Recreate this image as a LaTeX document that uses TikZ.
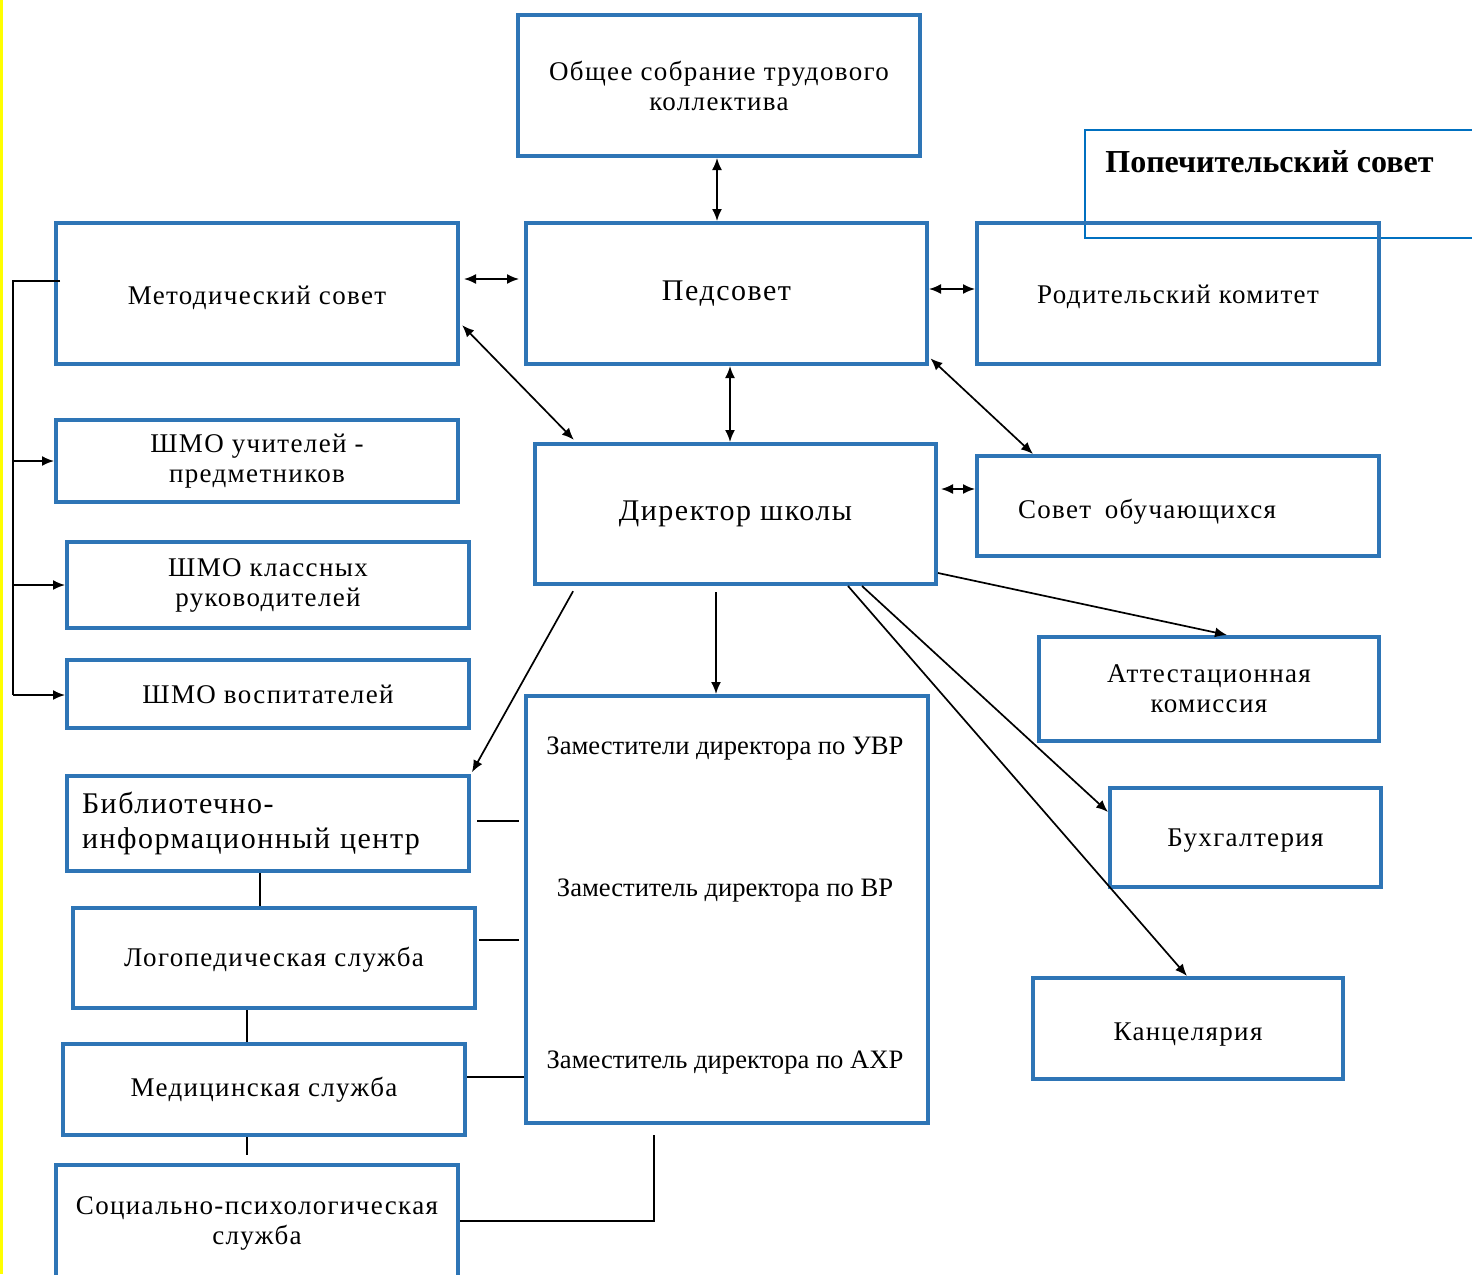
\documentclass[tikz,border=0pt]{standalone}
\usepackage{fontspec}
\setmainfont{Liberation Serif}
\newfontfamily\spc{Liberation Serif}[LetterSpace=5]
\usetikzlibrary{arrows.meta,calc}
\definecolor{boxblue}{RGB}{46,117,182}
\definecolor{popblue}{RGB}{0,112,192}
\definecolor{edgeyellow}{RGB}{255,255,0}
\begin{document}
\begin{tikzpicture}[x=0.5pt,y=-0.5pt,
  bx/.style={draw=boxblue, line width=2pt, align=center, inner sep=2pt, font=\spc\fontsize{13.5}{15}\selectfont},
  bigtxt/.style={font=\spc\fontsize{15}{17.5}\selectfont},
  ztxt/.style={inner sep=1pt, font=\fontsize{13.3}{15}\selectfont},
  dbl/.style={{Latex[length=6pt,width=5pt]}-{Latex[length=6pt,width=5pt]}, line width=0.85pt},
  arr/.style={-{Latex[length=6pt,width=5pt]}, line width=0.85pt},
  ln/.style={line width=0.85pt}]
\useasboundingbox (0,0) rectangle (1472,1274);
\fill[white] (0,0) rectangle (1472,1274);
\fill[edgeyellow] (0,0) rectangle (2.5,1274);

% boxes
\node[bx, minimum width=201pt, minimum height=70.5pt] (obsh) at (719,85.5) {Общее собрание трудового\\коллектива};
\node[draw=popblue, line width=0.75pt, minimum width=200pt, minimum height=54pt, inner sep=0pt] (popech) at (1285,184) {};
\node[anchor=base west, inner sep=0pt, font=\bfseries\fontsize{16}{18}\selectfont] (popechT) at (1105,172) {Попечительский совет};
\node[bx, minimum width=201pt, minimum height=70.5pt, text height=13.5pt, text depth=3pt] (metod) at (257,293.5) {Методический совет};
\node[bx, bigtxt, minimum width=200.5pt, minimum height=70.5pt] (ped) at (726.5,293.5) {Педсовет};
\node[bx, minimum width=201pt, minimum height=70.5pt, text height=12.5pt, text depth=3pt] (rod) at (1178,293.5) {Родительский комитет};
\node[bx, minimum width=201pt, minimum height=41pt] (shmo1) at (257,461) {ШМО учителей -\\предметников};
\node[bx, bigtxt, minimum width=200.5pt, minimum height=70pt] (dir) at (735.5,514) {Директор школы};
\node[bx, minimum height=50pt, align=left, text width=160pt, inner xsep=20.5pt, text height=15pt, text depth=3pt] (sovet) at (1178,506) {Совет\enspace обучающихся};
\node[bx, minimum width=201pt, minimum height=43pt] (shmo2) at (268,585) {ШМО классных\\руководителей};
\node[bx, minimum width=201pt, minimum height=34pt] (shmo3) at (268,694) {ШМО воспитателей};
\node[bx, minimum width=170pt, minimum height=52pt] (att) at (1209,689) {Аттестационная\\комиссия};
\node[bx, minimum width=201pt, minimum height=213.5pt] (zam) at (727,909.5) {};
\node[ztxt] (zam1) at (725,749) {Заместители директора по УВР};
\node[ztxt] (zam2) at (725,891) {Заместитель директора по ВР};
\node[ztxt] (zam3) at (725,1063) {Заместитель директора по АХР};
\node[bx, bigtxt, minimum height=47.5pt, align=left, text width=186pt, inner xsep=7.5pt] (bib) at (268,823.5) {Библиотечно-\\информационный центр};
\node[bx, minimum width=135.5pt, minimum height=49.5pt, text height=11.5pt, text depth=3pt] (buh) at (1245.5,837.5) {Бухгалтерия};
\node[bx, minimum width=201pt, minimum height=50pt, text height=11pt, text depth=3pt] (logo) at (274,958) {Логопедическая служба};
\node[bx, minimum width=155pt, minimum height=50.5pt, text height=14.5pt, text depth=3pt] (kanc) at (1188,1028.5) {Канцелярия};
\node[bx, minimum width=201pt, minimum height=45.5pt] (med) at (264,1089.5) {Медицинская служба};
\node[bx, minimum width=201pt, minimum height=58pt] (soc) at (257,1223) {Социально-психологическая\\служба};

% connectors around Педсовет
\coordinate (a1) at ([xshift=-1pt]obsh.south);
\draw[dbl] (a1) -- (a1 |- ped.north);
\coordinate (b1) at ([yshift=7.25pt]metod.east);
\draw[dbl, shorten <=2pt, shorten >=2.5pt] (b1) -- (b1 -| ped.west);
\coordinate (c1) at ([yshift=2.25pt]ped.east);
\draw[dbl] (c1) -- (c1 -| rod.west);
\draw[dbl, shorten <=1.5pt, shorten >=1.5pt] ([yshift=-14.75pt]metod.east) -- ([xshift=-79.75pt]dir.north);
\coordinate (e1) at ([xshift=1.75pt]ped.south);
\draw[dbl] (e1) -- (e1 |- dir.north);
\draw[dbl, shorten <=1pt] ([yshift=-31.75pt]ped.east) -- ([xshift=-72.5pt]sovet.north);
\coordinate (g1) at ([yshift=12.5pt]dir.east);
\draw[dbl, shorten <=1.5pt] (g1) -- (g1 -| sovet.west);

% from Директор
\draw[arr] ([yshift=-29.5pt]dir.east) -- ([xshift=9pt]att.north);
\draw[arr] ([xshift=63.25pt]dir.south) -- ([yshift=12.75pt]buh.west);
\draw[arr] ([xshift=56.25pt]dir.south) -- ([xshift=-0.5pt]kanc.north);
\coordinate (k1) at ([xshift=-9.75pt]dir.south);
\draw[arr, shorten <=3pt] (k1) -- (k1 |- zam.north);
\draw[arr, shorten <=3pt, shorten >=1pt] ([xshift=-79.75pt]dir.south) -- (bib.north east);

% left bus to ШМО
\coordinate (busT) at (13,281);
\coordinate (busB) at (13,695);
\draw[ln] ([xshift=3pt,yshift=6.25pt]metod.west) -- (busT) -- (busB);
\draw[arr] (busT |- shmo1.west) -- (shmo1.west);
\draw[arr] (busT |- shmo2.west) -- (shmo2.west);
\draw[arr] (busB) -- (busB -| shmo3.west);

% links to deputies box
\coordinate (n1) at ([yshift=1.25pt]bib.east);
\draw[ln, shorten <=3pt, shorten >=2.5pt] (n1) -- (n1 -| zam.west);
\coordinate (n2) at ([yshift=9pt]logo.east);
\draw[ln, shorten <=1pt, shorten >=2.5pt] (n2) -- (n2 -| zam.west);
\coordinate (n3) at ([yshift=6.25pt]med.east);
\draw[ln] (n3) -- (n3 -| zam.west);

% vertical links of left column
\coordinate (v1) at ([xshift=-4pt]bib.south);
\draw[ln] (v1) -- (v1 |- logo.north);
\coordinate (v2) at ([xshift=-13.5pt]logo.south);
\draw[ln] (v2) -- (v2 |- med.north);
\coordinate (v3) at ([xshift=-8.5pt]med.south);
\draw[ln, shorten >=4pt] (v3) -- (v3 |- soc.north);

\coordinate (s1) at ([yshift=1pt]soc.east);
\coordinate (s2) at ([xshift=-36.5pt,yshift=-5pt]zam.south);
\draw[ln] (s1) -| (s2);
\end{tikzpicture}
\end{document}
